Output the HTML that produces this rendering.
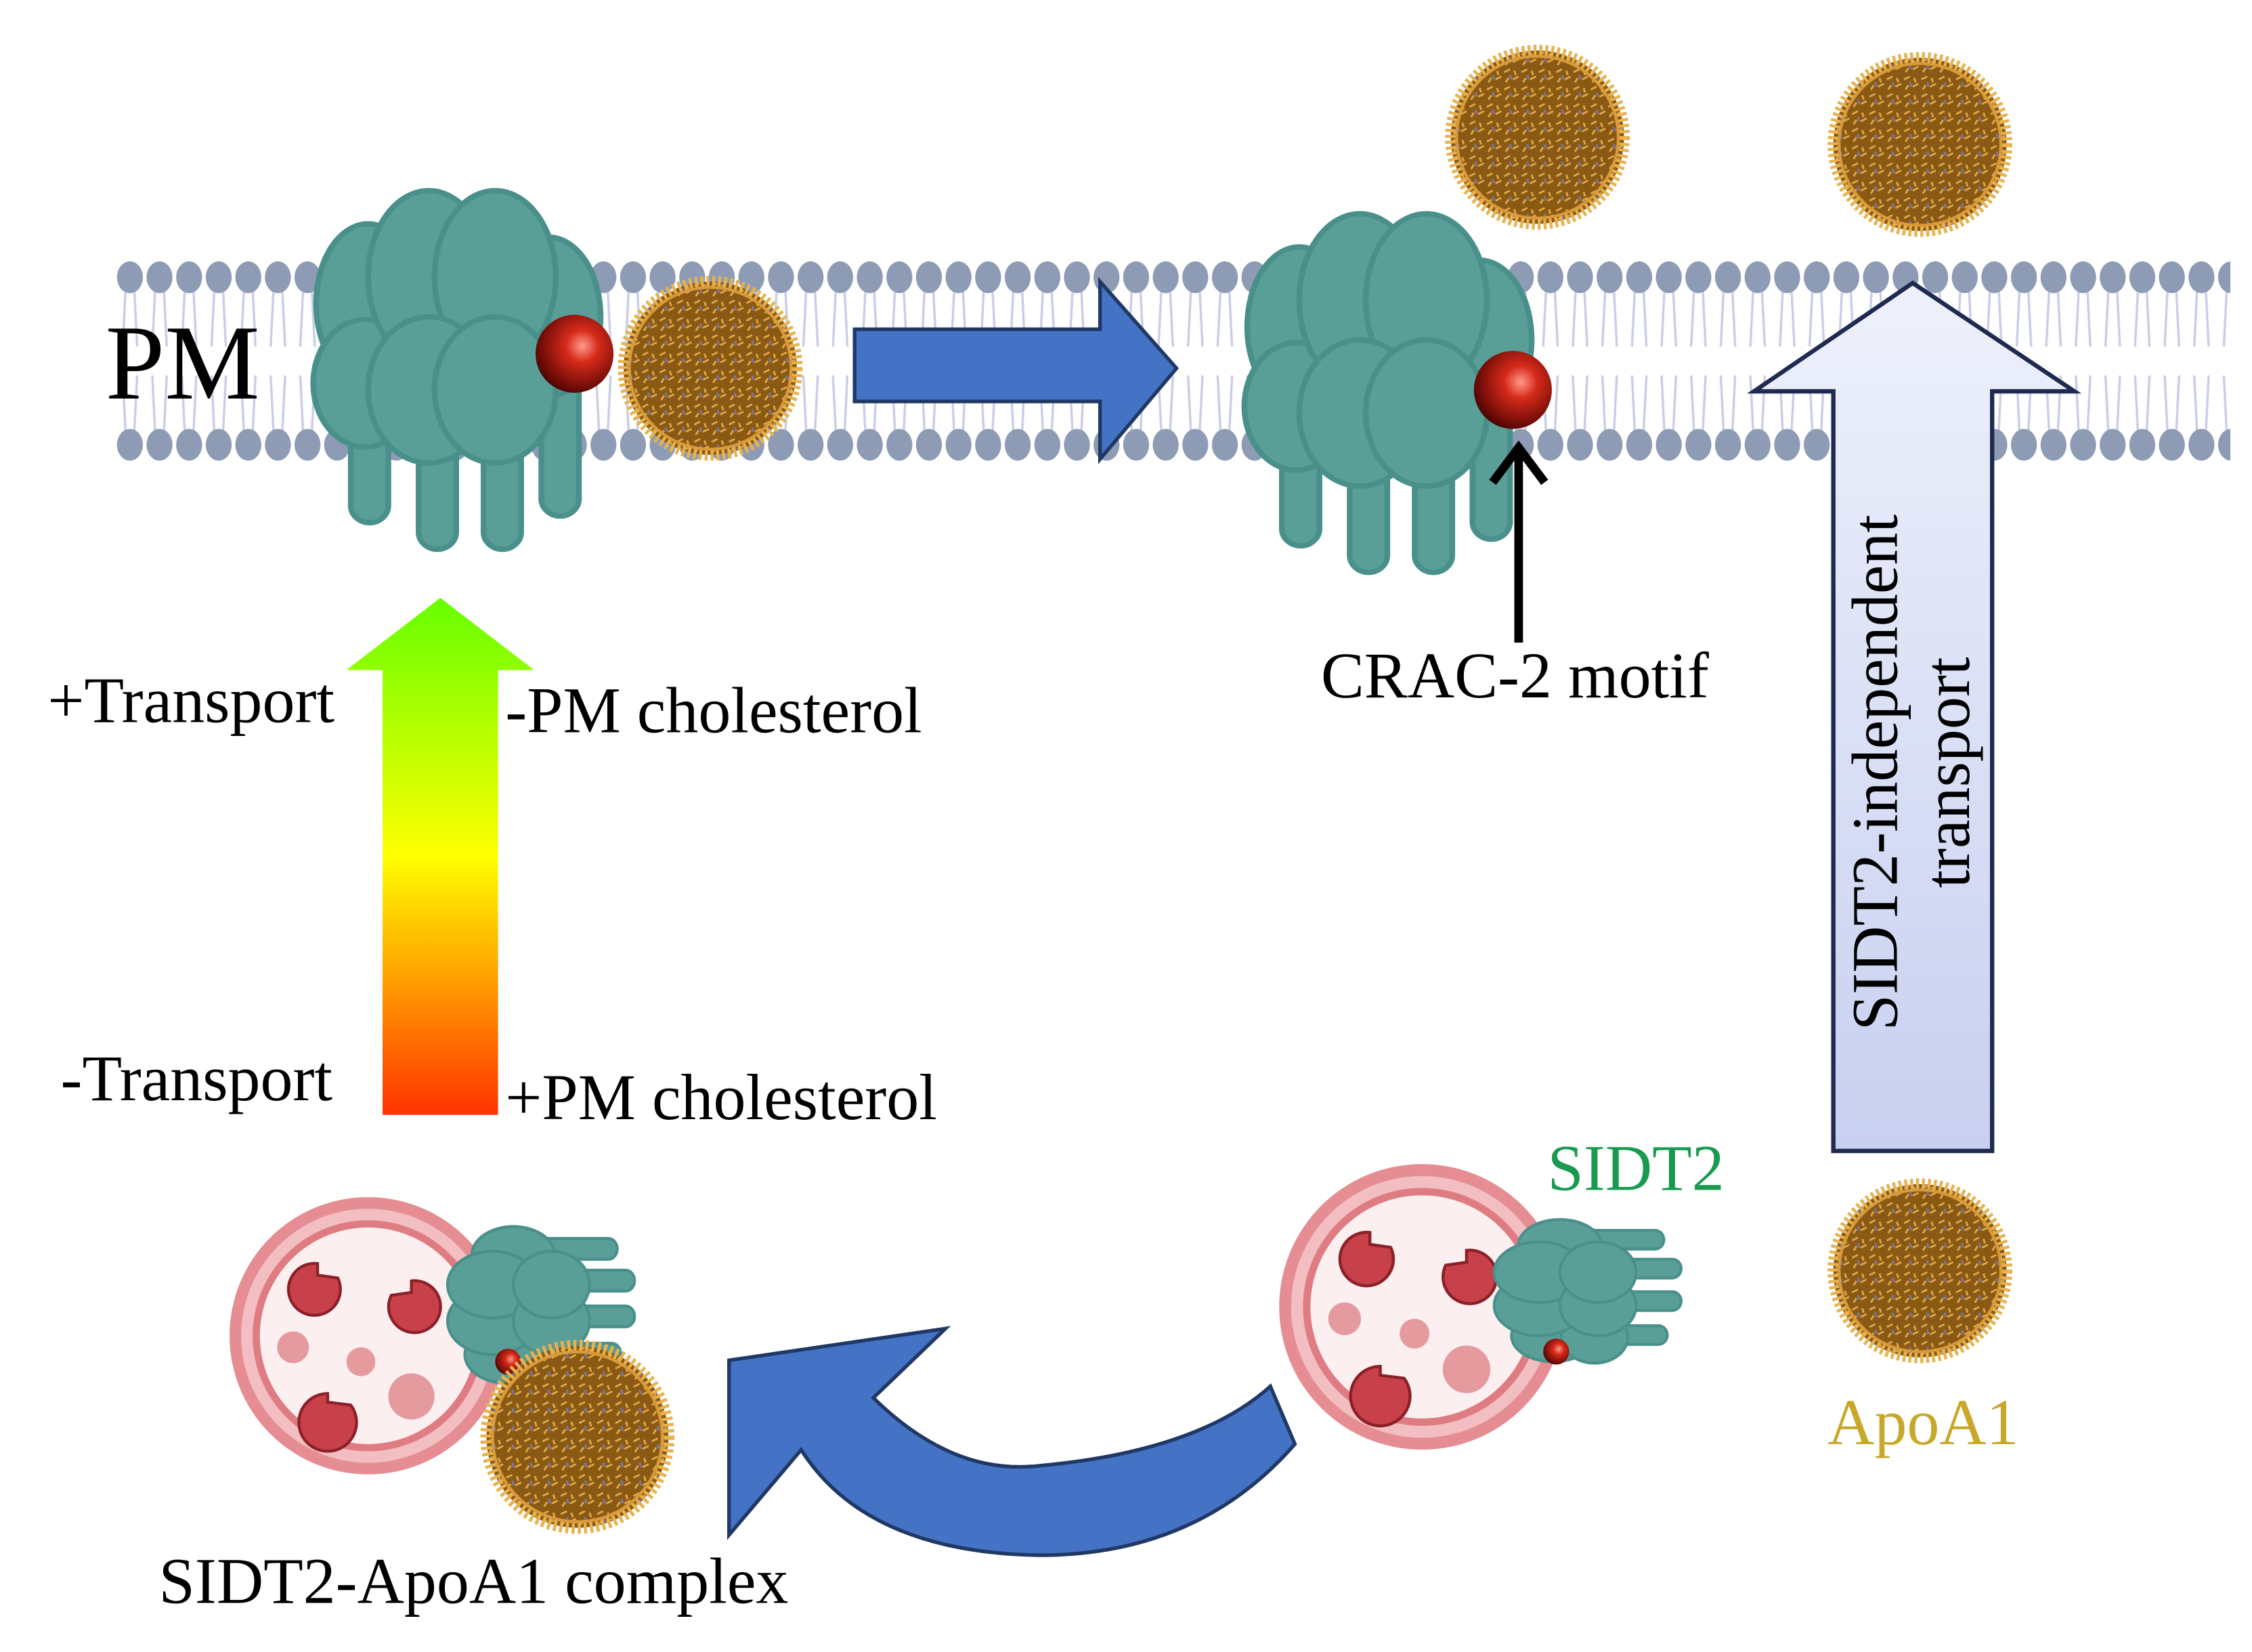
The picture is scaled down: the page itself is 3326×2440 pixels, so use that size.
<!DOCTYPE html>
<html><head><meta charset="utf-8"><style>
html,body{margin:0;padding:0;background:#fff;}
svg{display:block;}
text{font-family:"Liberation Serif",serif;}
</style></head><body>
<svg width="3326" height="2440" viewBox="0 0 1560 1144" preserveAspectRatio="none" xmlns="http://www.w3.org/2000/svg">
<defs>
<pattern id="mem" x="80" y="0" width="20.5" height="1144" patternUnits="userSpaceOnUse">
<path d="M7 200 L5 240 M13 200 L15 240 M7 300 L5 260 M13 300 L15 260" stroke="#c9cde6" stroke-width="1.6" fill="none"/>
<ellipse cx="10" cy="192" rx="9" ry="11" fill="#8e9bb4"/>
<ellipse cx="10" cy="308" rx="9" ry="11" fill="#8e9bb4"/>
</pattern>
<pattern id="spk" width="12" height="12" patternUnits="userSpaceOnUse">
<rect width="12" height="12" fill="#8a5a14"/>
<path d="M1 3 L5 1 M7 8 L11 6 M2 10 L4 7 M8 2 L9 5" stroke="#e0a94a" stroke-width="1.3"/>
<path d="M5 5 L6 8" stroke="#7a78b8" stroke-width="1.3"/>
</pattern>
<radialGradient id="ball" cx="0.6" cy="0.4" r="0.7">
<stop offset="0" stop-color="#ff9a8a"/><stop offset="0.3" stop-color="#d62a1a"/><stop offset="0.8" stop-color="#6a0a06"/><stop offset="1" stop-color="#2a0402"/>
</radialGradient>
<linearGradient id="grad1" x1="0" y1="0" x2="0" y2="1">
<stop offset="0" stop-color="#66ff00"/><stop offset="0.5" stop-color="#ffff00"/><stop offset="1" stop-color="#ff3300"/>
</linearGradient>
<linearGradient id="grad2" x1="0" y1="0" x2="0" y2="1">
<stop offset="0" stop-color="#eef1fb"/><stop offset="1" stop-color="#c8d0f0"/>
</linearGradient>
<g id="prot">
<g fill="#5a9e98" stroke="#4a908a" stroke-width="4">
<rect x="28" y="120" width="26" height="130" rx="13"/>
<rect x="75" y="130" width="26" height="140" rx="13"/>
<rect x="120" y="130" width="26" height="140" rx="13"/>
<rect x="160" y="120" width="26" height="125" rx="13"/>
<ellipse cx="40" cy="85" rx="36" ry="60"/>
<ellipse cx="165" cy="95" rx="36" ry="60"/>
<ellipse cx="38" cy="145" rx="36" ry="48"/>
<ellipse cx="82" cy="65" rx="42" ry="65"/>
<ellipse cx="128" cy="65" rx="42" ry="65"/>
<ellipse cx="82" cy="150" rx="42" ry="55"/>
<ellipse cx="128" cy="150" rx="42" ry="55"/>
</g>
</g>
<g id="lp">
<circle r="60" fill="url(#spk)" stroke="#e8b24e" stroke-width="8" stroke-dasharray="2 2"/>
<circle r="56" fill="none" stroke="#d99a3a" stroke-width="2"/>
</g>
<g id="lyso">
<circle r="96" fill="#e58d92"/>
<circle r="88" fill="#f2bec1"/>
<circle r="80" fill="#de7c82"/>
<circle r="75" fill="#fbeff0"/>
<g fill="#c8404a" stroke="#8a2028" stroke-width="2">
<path d="M-30 -30 m0 0 a18 18 0 1 0 14 10 l-14 -2 z" transform="translate(-5 -20)"/>
<path d="M0 0 a18 18 0 1 1 -14 10 l14 -2 z" transform="translate(30 -38)"/>
<path d="M0 0 a20 20 0 1 0 16 8 l-16 -2 z" transform="translate(-28 40)"/>
</g>
<g fill="#e59a9e">
<circle cx="-52" cy="8" r="11"/><circle cx="-5" cy="18" r="10"/><circle cx="30" cy="42" r="16"/>
</g>
</g>
</defs>
<rect width="1560" height="1144" fill="#fff"/>
<rect x="80" y="170" width="1465" height="160" fill="url(#mem)"/>
<text x="73" y="276" font-size="74">PM</text>

<use href="#prot" transform="translate(215,132) scale(1,0.92)"/>
<circle cx="398" cy="245" r="27" fill="url(#ball)"/>
<use href="#lp" transform="translate(492,255)"/>

<polygon points="592,228 762,228 762,195 815,255 762,318 762,278 592,278" fill="#4472c4" stroke="#1f3864" stroke-width="2.5"/>

<use href="#prot" transform="translate(860,148) scale(1,0.92)"/>
<circle cx="1048" cy="270" r="27" fill="url(#ball)"/>
<path d="M1052 445 L1052 310 M1034 334 L1052 310 L1070 334" stroke="#000" stroke-width="6" fill="none"/>
<text x="915" y="483" font-size="45">CRAC-2 motif</text>

<use href="#lp" transform="translate(1065,95)"/>
<use href="#lp" transform="translate(1330,100)"/>

<polygon points="1270,797 1270,271 1215,271 1325,196 1437,271 1380,271 1380,797" fill="url(#grad2)" stroke="#1f2a50" stroke-width="3"/>
<text transform="translate(1314,535) rotate(-90)" text-anchor="middle" font-size="45">SIDT2-independent</text>
<text transform="translate(1364,535) rotate(-90)" text-anchor="middle" font-size="45">transport</text>

<polygon points="265,772 265,464 240,464 305,414 370,464 345,464 345,772" fill="url(#grad1)"/>
<text x="33" y="500" font-size="45">+Transport</text>
<text x="350" y="507" font-size="45">-PM cholesterol</text>
<text x="42" y="762" font-size="45">-Transport</text>
<text x="350" y="775" font-size="45">+PM cholesterol</text>

<use href="#lyso" transform="translate(255,925)"/>
<use href="#prot" transform="translate(310,960) rotate(-90) scale(0.55,0.48)"/>
<circle cx="352" cy="943" r="9" fill="url(#ball)"/>
<use href="#lp" transform="translate(400,995) scale(1.05)"/>
<text x="110" y="1110" font-size="45">SIDT2-ApoA1 complex</text>

<path d="M505,942 L655,920 L605,968 Q660,1022 720,1015 Q830,1005 880,960 L897,1000 Q830,1077 720,1077 Q600,1075 555,1004 L505,1063 Z" fill="#4472c4" stroke="#1f3864" stroke-width="2.5"/>

<use href="#lyso" transform="translate(985,905) scale(1.03)"/>
<use href="#prot" transform="translate(1035,945) rotate(-90) scale(0.5,0.48)"/>
<circle cx="1078" cy="936" r="9" fill="url(#ball)"/>
<text x="1072" y="824" font-size="45" fill="#1a9a50">SIDT2</text>

<use href="#lp" transform="translate(1330,880)"/>
<text x="1266" y="1000" font-size="45" fill="#c8a82a">ApoA1</text>
</svg>
</body></html>
